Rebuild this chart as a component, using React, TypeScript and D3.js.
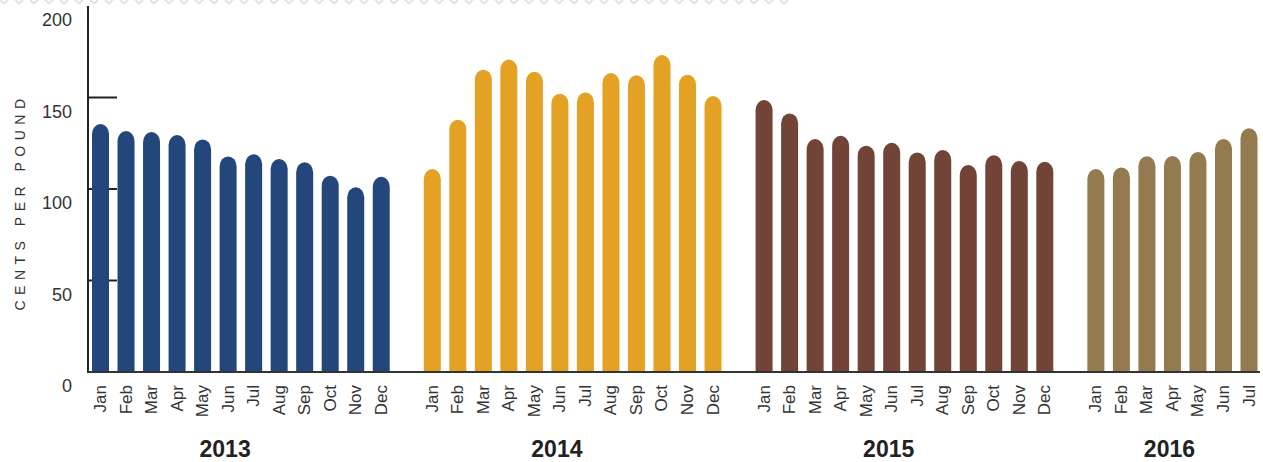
import React from "react";
import * as d3 from "d3";

const months = ["Jan", "Feb", "Mar", "Apr", "May", "Jun", "Jul", "Aug", "Sep", "Oct", "Nov", "Dec"];
const years = ["2013", "2014", "2015", "2016"];
const values2013 = [135.5, 131.7, 131.1, 129.5, 127.1, 117.8, 119, 116.4, 114.6, 107.3, 100.9, 106.7];
const values2014 = [110.9, 137.9, 165.2, 170.8, 164.1, 152.1, 152.8, 163.4, 162.1, 173.2, 162.5, 150.8];
const values2015 = [148.6, 141.3, 127.3, 129.1, 123.7, 125.3, 120, 121.3, 113.1, 118.4, 115.3, 114.9];
const values2016 = [110.9, 111.8, 117.9, 118, 120.2, 127.3, 133.2];
const seriesValues = [values2013, values2014, values2015, values2016];
const colors = ["#23477a", "#e4a224", "#724437", "#937a4f"];
const yTicks = [0, 50, 100, 150, 200];

const W = 1263;
const H = 462;

type Bar = { key: string; year: string; month: string; value: number; color: string; yi: number };

const bars: Bar[] = [];
const domain: string[] = [];
seriesValues.forEach((vals, yi) => {
  vals.forEach((v, mi) => {
    const key = `${years[yi]}-${months[mi]}`;
    domain.push(key);
    bars.push({ key, year: years[yi], month: months[mi], value: v, color: colors[yi], yi });
  });
  if (yi < seriesValues.length - 1) domain.push(`gap-${years[yi]}`);
});

export default function App() {
  const x = d3.scalePoint<string>().domain(domain).range([100.5, 1249]);
  const y = d3.scaleLinear().domain([0, 200]).range([372, 6]);
  const bw = 17;
  const ry = 10;
  const base = y(0);

  const barPath = (b: Bar) => {
    const cx = x(b.key)!;
    const x0 = cx - bw / 2;
    const x1 = cx + bw / 2;
    const yt = y(b.value);
    return `M${x0},${base} L${x0},${yt + ry} A${bw / 2},${ry} 0 0 1 ${x1},${yt + ry} L${x1},${base} Z`;
  };

  const chevrons = d3.range(0, 785, 15);

  return (
    <svg width={W} height={H} style={{ position: "absolute", left: 0, top: 0, background: "#fff" }}
      fontFamily="'Liberation Sans', Arial, sans-serif">
      {/* decorative top border */}
      <g stroke="#e2e2e2" strokeWidth={2} fill="none">
        {chevrons.map((cx) => (
          <path key={cx} d={`M${cx},0 L${cx + 4},3.5 L${cx + 8},0`} />
        ))}
      </g>

      {/* y axis title */}
      <text
        transform={`translate(20,${205}) rotate(-90)`}
        textAnchor="middle"
        dominantBaseline="central"
        fontSize={14}
        letterSpacing={5.5}
        fill="#333"
        dx={3}
      >
        CENTS PER POUND
      </text>

      {/* y tick labels */}
      {yTicks.map((t) => (
        <text key={t} x={72} y={y(t) + 14} textAnchor="end" dominantBaseline="central" fontSize={18} fill="#333">
          {t}
        </text>
      ))}

      {/* tick marks (behind bars) */}
      {yTicks.filter((t) => t > 0 && t < 200).map((t) => (
        <line key={t} x1={88} x2={117} y1={y(t)} y2={y(t)} stroke="#222" strokeWidth={2} />
      ))}

      {/* bars */}
      {bars.map((b) => (
        <path key={b.key} d={barPath(b)} fill={b.color} />
      ))}

      {/* axes */}
      <line x1={88} x2={88} y1={y(200)} y2={base + 1} stroke="#222" strokeWidth={2} />
      <line x1={87} x2={1260} y1={base} y2={base} stroke="#333" strokeWidth={2} />

      {/* month labels */}
      {bars.map((b) => (
        <text
          key={b.key}
          transform={`translate(${x(b.key)},385) rotate(-90)`}
          textAnchor="end"
          dominantBaseline="central"
          fontSize={17}
          fill="#333"
        >
          {b.month}
        </text>
      ))}

      {/* year labels */}
      {years.map((yr, yi) => {
        const n = seriesValues[yi].length;
        const mid = `${yr}-${months[Math.floor((n - 1) / 2)]}`;
        return (
          <text key={yr} x={x(mid)! - 3} y={449} textAnchor="middle" dominantBaseline="central"
            fontSize={23} fontWeight="bold" fill="#222">
            {yr}
          </text>
        );
      })}
    </svg>
  );
}
